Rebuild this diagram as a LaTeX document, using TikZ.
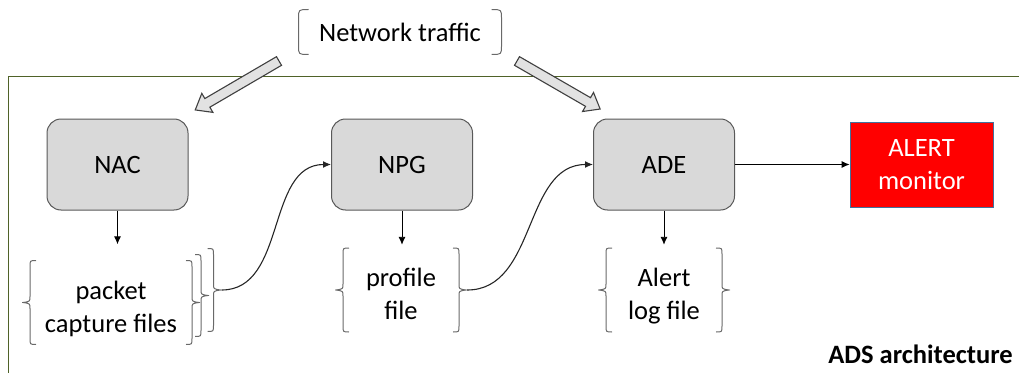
\documentclass[tikz,border=0pt]{standalone}
\usepackage{fontspec}
\setmainfont{Carlito}
\usetikzlibrary{calc,arrows.meta}

\definecolor{frameGreen}{RGB}{79,98,40}
\definecolor{boxFill}{RGB}{217,217,217}
\definecolor{boxLine}{RGB}{89,89,89}
\definecolor{braceGray}{RGB}{105,105,105}
\definecolor{arrowFill}{RGB}{226,226,226}
\definecolor{arrowLine}{RGB}{64,64,64}
\definecolor{alertLine}{RGB}{65,113,156}

% extra headroom on a first line, lowers a text block inside its braces
\newcommand{\headroom}{\rule{0pt}{31pt}}

\tikzset{
  lbl/.style={font=\fontsize{26.5}{33}\selectfont, align=center, inner sep=0pt},
  sysbox/.style={lbl, draw=boxLine, fill=boxFill, line width=1pt,
    rounded corners=14pt, minimum width=141pt, minimum height=91pt},
  alertbox/.style={lbl, draw=alertLine, fill=red, text=white, line width=0.8pt,
    minimum width=143pt, minimum height=85pt},
  braceline/.style={draw=braceGray, line width=1pt},
  % left and right curly braces around a text block
  bracepair/.style={lbl, minimum width=#1,
    path picture={
      \draw[braceline] let \p1=(path picture bounding box.north west),
        \p2=(path picture bounding box.south east),
        \n1={0.5*(\y1+\y2)} in
        (\x1+14pt,\y1-1pt) .. controls (\x1+8pt,\y1-1pt) .. (\x1+8pt,\y1-7pt)
        -- (\x1+8pt,\n1+6pt) .. controls (\x1+8pt,\n1+1pt) .. (\x1+1pt,\n1+0pt)
        .. controls (\x1+8pt,\n1-1pt) .. (\x1+8pt,\n1-6pt)
        -- (\x1+8pt,\y2+7pt) .. controls (\x1+8pt,\y2+1pt) .. (\x1+14pt,\y2+1pt)
        (\x2-14pt,\y1-1pt) .. controls (\x2-8pt,\y1-1pt) .. (\x2-8pt,\y1-7pt)
        -- (\x2-8pt,\n1+6pt) .. controls (\x2-8pt,\n1+1pt) .. (\x2-1pt,\n1+0pt)
        .. controls (\x2-8pt,\n1-1pt) .. (\x2-8pt,\n1-6pt)
        -- (\x2-8pt,\y2+7pt) .. controls (\x2-8pt,\y2+1pt) .. (\x2-14pt,\y2+1pt);
    }},
  % a single right curly brace filling the node
  rbrace/.style={minimum width=14pt, inner sep=0pt,
    path picture={
      \draw[braceline] let \p1=(path picture bounding box.north west),
        \p2=(path picture bounding box.south east),
        \n1={0.5*(\y1+\y2)} in
        (\x2-14pt,\y1-1pt) .. controls (\x2-8pt,\y1-1pt) .. (\x2-8pt,\y1-7pt)
        -- (\x2-8pt,\n1+6pt) .. controls (\x2-8pt,\n1+1pt) .. (\x2-1pt,\n1+0pt)
        .. controls (\x2-8pt,\n1-1pt) .. (\x2-8pt,\n1-6pt)
        -- (\x2-8pt,\y2+7pt) .. controls (\x2-8pt,\y2+1pt) .. (\x2-14pt,\y2+1pt);
    }},
  % round-cornered bracket pair
  bracketpair/.style={lbl,
    path picture={
      \draw[braceline] let \p1=(path picture bounding box.north west),
        \p2=(path picture bounding box.south east) in
        (\x1+11pt,\y1-1pt) .. controls (\x1+1pt,\y1-1pt) .. (\x1+1pt,\y1-10pt)
        -- (\x1+1pt,\y2+10pt) .. controls (\x1+1pt,\y2+1pt) .. (\x1+11pt,\y2+1pt)
        (\x2-11pt,\y1-1pt) .. controls (\x2-1pt,\y1-1pt) .. (\x2-1pt,\y1-10pt)
        -- (\x2-1pt,\y2+10pt) .. controls (\x2-1pt,\y2+1pt) .. (\x2-11pt,\y2+1pt);
    }},
  flow/.style={draw=black, line width=0.9pt, -{Latex[length=8pt,width=7pt]}},
  link/.style={draw=black!85, line width=1.1pt, -{Latex[length=8pt,width=7pt]}},
  pics/blockarrow/.style={code={
    \draw[fill=arrowFill, draw=arrowLine, line width=1.1pt, line join=miter]
      (0,-5) -- ({#1-14},-5) -- ({#1-14},-11) -- (#1,0) -- ({#1-14},11)
      -- ({#1-14},5) -- (0,5) -- cycle;
  }},
}

\begin{document}
\begin{tikzpicture}[x=1pt, y=1pt]
  \useasboundingbox (0,0) rectangle (1019,373);

  % system frame
  \draw[frameGreen, line width=1pt] (1019,296) -- (8,296) -- (8,0);

  % incoming traffic
  \node[bracketpair, minimum width=205pt, minimum height=47pt] (traffic) at (400,341) {Network traffic};
  \coordinate (tailL) at (279,312);
  \coordinate (tailR) at (517,312);
  \pic[rotate=210.3] at (tailL) {blockarrow=97};
  \pic[rotate=-30.0] at (tailR) {blockarrow=96};

  % processing blocks
  \node[sysbox] (nac) at (117.5,208.5) {NAC};
  \node[sysbox] (npg) at (402,208.5) {NPG};
  \node[sysbox] (ade) at (664,208.5) {ADE};
  \node[alertbox] (alert) at (921.5,208.5) {ALERT\\monitor};

  % data files
  \node[bracepair=178pt, minimum height=86pt] (pcap) at (111,70.5) {\headroom packet\\capture files\vphantom{p}};
  \node[rbrace, minimum height=84pt] (pcapB) at (202,77.5) {};
  \node[rbrace, minimum height=85pt] (pcapC) at (214.5,83) {};
  \node[bracepair=132pt, minimum height=86pt] (prof) at (401,83) {\headroom profile\\file\vphantom{p}};
  \node[bracepair=132pt, minimum height=86pt] (alog) at (664,83) {\headroom Alert\\log file};

  % data flow
  \draw[flow, shorten >=15pt] (nac.south) -- (nac.south |- pcap.north);
  \draw[flow] (npg.south) -- ([yshift=2pt]npg.south |- prof.north);
  \draw[flow] (ade.south) -- ([yshift=2pt]ade.south |- alog.north);
  \draw[flow] (ade.east) -- (alert.west);
  \draw[link] (pcapC.east) to[out=0, in=180] (npg.west);
  \draw[link] (prof.east) to[out=0, in=180] (ade.west);

  \node[lbl, font=\fontsize{26.5}{30}\selectfont\bfseries, anchor=east] (title) at (1013,19) {ADS architecture};
\end{tikzpicture}
\end{document}
